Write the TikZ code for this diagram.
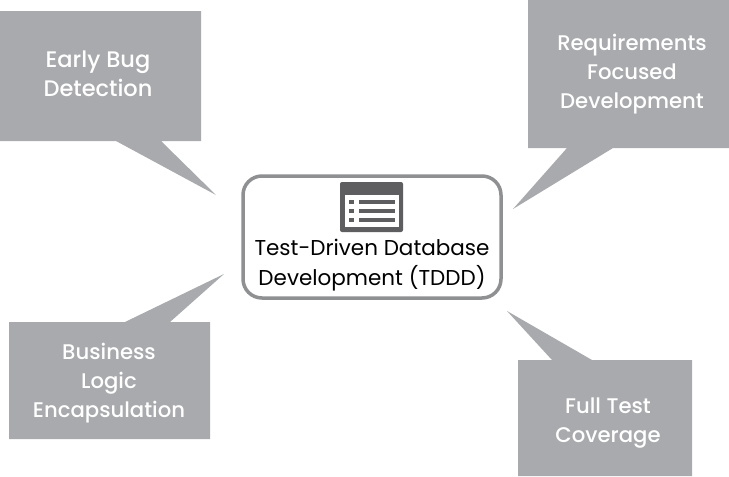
\documentclass[tikz,border=0pt]{standalone}
\usepackage{fontspec}
\setmainfont{Poppins}
\newfontfamily\calloutfont{Poppins Medium}
\definecolor{calloutgray}{HTML}{A9AAAD}
\definecolor{boxline}{HTML}{8F9092}
\definecolor{icongray}{HTML}{5E5E60}
\tikzset{
  callout/.style={fill=calloutgray,draw=none},
  calltext/.style={text=white,align=center,font=\calloutfont\fontsize{21.2}{29}\selectfont},
  widetext/.style={text=white,align=center,font=\calloutfont\fontsize{22.5}{29}\selectfont},
  maintext/.style={text=black,align=center,font=\fontsize{21.5}{30}\selectfont}
}
\begin{document}
\begin{tikzpicture}[x=1pt,y=-1pt]
\useasboundingbox (0,0) rectangle (729,477);
\fill[white] (0,0) rectangle (729,477);
\fill[callout] (0,11) -- (201,11) -- (201,141) -- (161,141) -- (216,195) -- (116,141) -- (0,141) -- cycle;
\fill[callout] (528,0) -- (729,0) -- (729,148) -- (613,148) -- (513,209) -- (567,148) -- (528,148) -- cycle;
\fill[callout] (9,322) -- (125,322) -- (224,274) -- (170,322) -- (210,322) -- (210,439) -- (9,439) -- cycle;
\fill[callout] (518,360) -- (552,360) -- (507,311) -- (592,360) -- (692,360) -- (692,476) -- (518,476) -- cycle;
\node[widetext] (a) at (98,74) {Early Bug\\Detection};
\node[calltext] (b) at (632,74) {Requirements\\Focused\\Development};
\node[calltext] (c) at (109,383) {Business\\Logic\\Encapsulation};
\node[calltext] (d) at (608,423) {Full Test\\Coverage};
\draw[boxline,line width=3.5pt,rounded corners=19pt,fill=white] (243,176) rectangle (501,298);
\fill[icongray,rounded corners=2pt] (340,182) rectangle (403,232);
\fill[white] (345,195) rectangle (399,227);
\foreach \yy in {202,211,220}{
  \fill[icongray] (349,\yy-2) rectangle (354,\yy+2);
  \fill[icongray] (359,\yy-2) rectangle (395,\yy+2);
}
\node[maintext] (m) at (372,265) {Test-Driven Database\\Development (TDDD)};
\end{tikzpicture}
\end{document}
